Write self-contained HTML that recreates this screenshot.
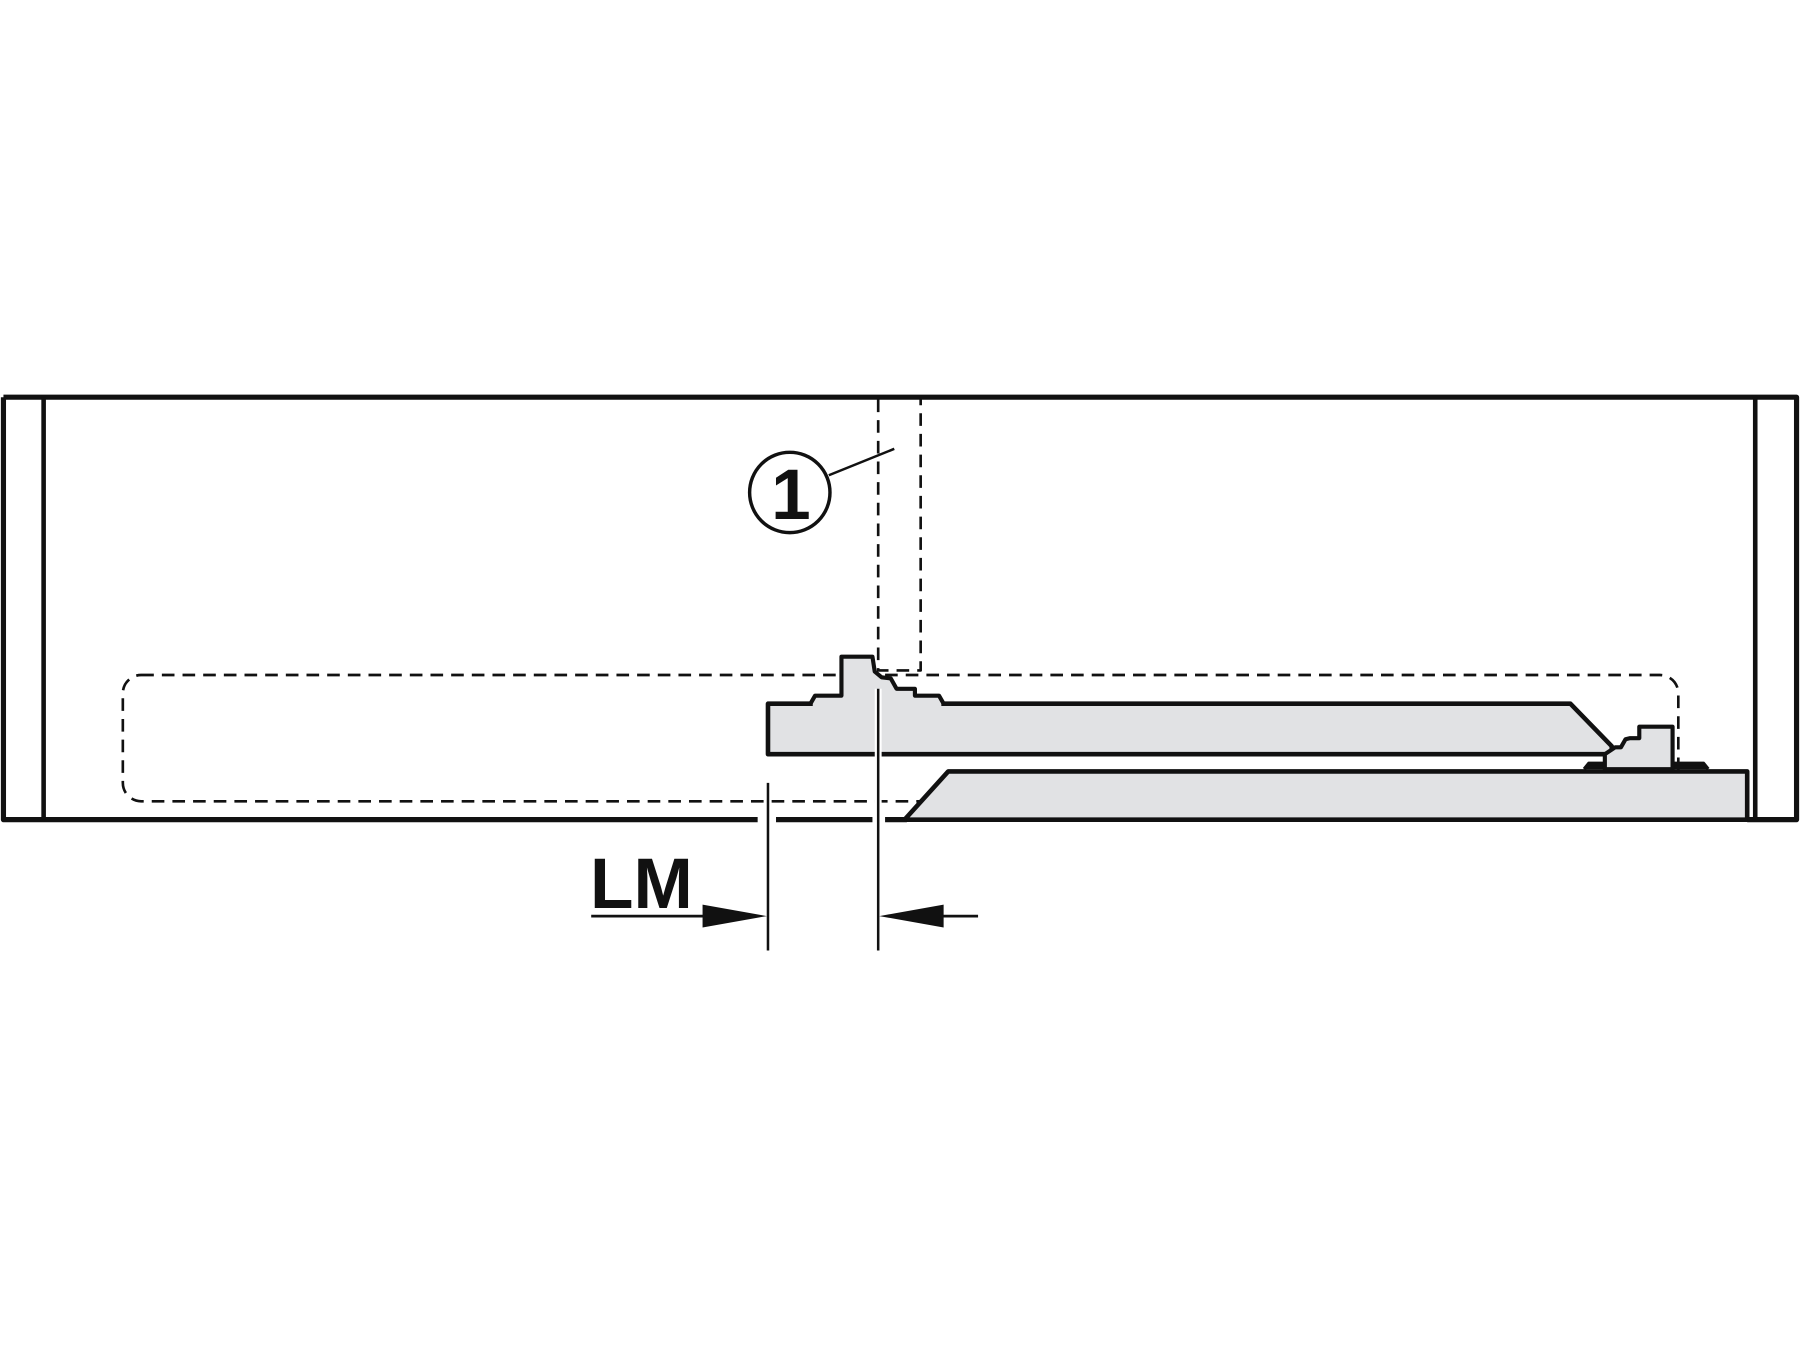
<!DOCTYPE html>
<html><head><meta charset="utf-8"><style>html,body{margin:0;padding:0;background:#fff}svg{display:block}</style></head>
<body>
<svg width="1800" height="1350" viewBox="0 0 1568 1176" xmlns="http://www.w3.org/2000/svg">
<g fill="none" stroke="#111" stroke-linejoin="round">
<rect x="107" y="588" width="1355" height="110" rx="16" stroke-width="2.3" stroke-dasharray="11,7"/>
<path d="M765 348 V584 H802 V348" stroke-width="2.3" stroke-dasharray="11,7"/>
<path d="M788 714 L826 672 H1522 V714 Z" fill="#e1e2e4" stroke-width="4"/>
<path d="M1380 670 L1384 665 H1484 L1488 670" fill="#111" stroke-width="3"/>
<path d="M669 613 H1368 L1404 650 V657 H669 Z" fill="#e1e2e4" stroke-width="4"/>
<path d="M1398 670 V657 L1407 651 L1412 651 L1416 644 L1420 643 L1428 643 V633 H1457 V670 Z" fill="#e1e2e4" stroke-width="3.6"/>
<path d="M708 616 L708 606 H733 V572 H760 L762 585 L768 590 L776 591 L781 600 H797 V606 H820 L820 616 Z" fill="#e1e2e4" stroke="none"/>
<path d="M706 613 L710 606 H733 V572 H760 L762 585 L768 590 L776 591 L781 600 H797 V606 H818 L822 613" stroke-width="3.6"/>
<path d="M3 346 H1565 V714 H1522" stroke-width="4.5"/>
<path d="M3 346 V714 H660 M676 714 H760 M771 714 H790" stroke-width="4.5"/>
<line x1="38" y1="346" x2="38" y2="714" stroke-width="4"/>
<line x1="1529" y1="346" x2="1529" y2="714" stroke-width="4"/>
<line x1="765" y1="600" x2="765" y2="828" stroke="#fff" stroke-width="6"/>
<line x1="765" y1="600" x2="765" y2="828" stroke-width="2.2"/>
<line x1="669" y1="682" x2="669" y2="828" stroke-width="2.2"/>
<circle cx="688" cy="429" r="35" stroke-width="3"/>
<line x1="722" y1="414" x2="779" y2="391" stroke-width="2.2"/>
<line x1="515" y1="798" x2="620" y2="798" stroke-width="2.4"/>
<line x1="815" y1="798" x2="852" y2="798" stroke-width="2.4"/>
</g>
<path d="M612 788 L668 798 L612 808 Z" fill="#111"/>
<path d="M822 788 L766 798 L822 808 Z" fill="#111"/>
<text x="689" y="452" text-anchor="middle" font-family="Liberation Sans, sans-serif" font-weight="bold" font-size="62" fill="#111">1</text>
<text x="514" y="791" font-family="Liberation Sans, sans-serif" font-weight="bold" font-size="62" fill="#111">LM</text>
</svg>
</body></html>
